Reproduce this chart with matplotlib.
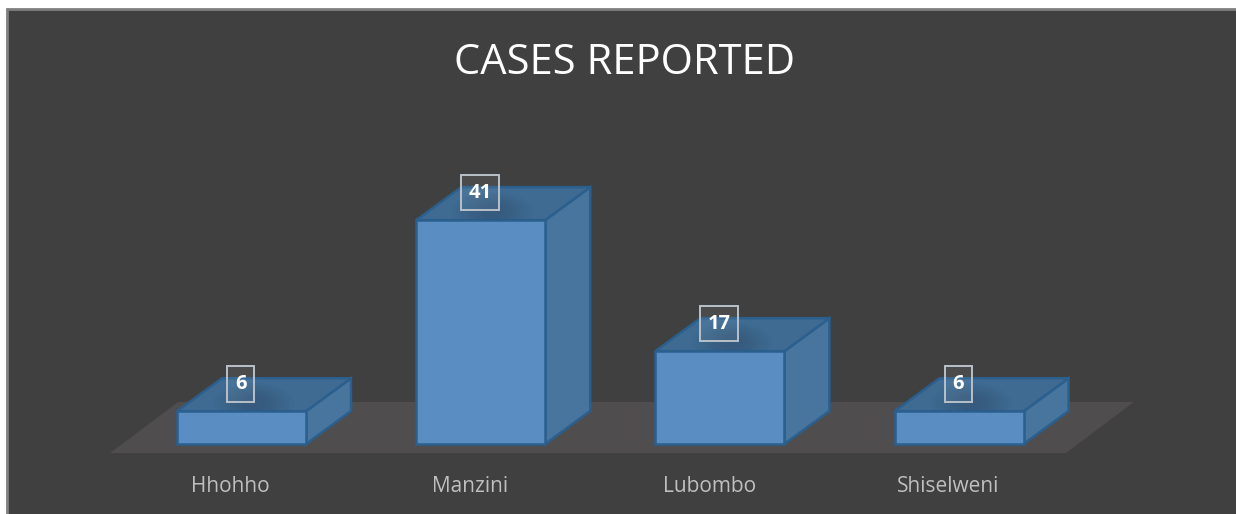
import matplotlib
matplotlib.use("Agg")
import matplotlib.pyplot as plt
from matplotlib.patches import Polygon, Rectangle, Ellipse

categories = ["Hhohho", "Manzini", "Lubombo", "Shiselweni"]
cases = [6, 41, 17, 6]

# pixel scale of the chart
x0_px, x_step = 241.5, 239.2
y0_px, y_step = 444, 5.46
W, H = 1236, 514

bar_w = 129 / x_step
dx = 45 / x_step
dy = 33 / y_step

plt.rcParams['font.family'] = ['Open Sans', 'DejaVu Sans']

fig = plt.figure(figsize=(W / 100, H / 100), dpi=100, facecolor='white')
ax = fig.add_axes([0, 0, 1, 1])
ax.set_xlim(-x0_px / x_step, (W - x0_px) / x_step)
ax.set_ylim((y0_px - H) / y_step, y0_px / y_step)
ax.axis('off')

# chart frame, in figure fraction
fig.patches.append(Rectangle((7 / W, -6 / H), (W + 6) / W, (H - 9 + 6) / H, transform=fig.transFigure,
                             facecolor='#404040', edgecolor='#7f7f7f', linewidth=2, zorder=-5))

# floor
v_low, v_high = -1.65, 7.7
ax.add_patch(Polygon([(-0.549, v_low), (3.447, v_low), (3.731, v_high), (-0.265, v_high)],
                     closed=True, facecolor='#4f4d4d', edgecolor='none', zorder=1))

for i, v in enumerate(cases):
    left = i - bar_w / 2
    right = i + bar_w / 2
    # side
    ax.add_patch(Polygon([(right, 0), (right + dx, dy), (right + dx, v + dy), (right, v)],
                         closed=True, facecolor='#48759e', edgecolor='#2b5f8e', linewidth=1.8, zorder=2))
    # top
    ax.add_patch(Polygon([(left, v), (right, v), (right + dx, v + dy), (left + dx, v + dy)],
                         closed=True, facecolor='#3f6b93', edgecolor='#2b5f8e', linewidth=1.8, zorder=2))
    # front
    ax.add_patch(Rectangle((left, 0), bar_w, v, facecolor='#5a8ec3', edgecolor='#2b5f8e',
                           linewidth=1.8, zorder=3))
    # soft shadow under the label
    for k in range(8):
        ax.add_patch(Ellipse((i + 0.05, v + dy * 0.25), (0.34 - k * 0.035), (dy * 1.2 - k * 0.6),
                             facecolor='#2c4a66', edgecolor='none', alpha=0.06, zorder=2.5))
    # value label
    ax.text(i - 0.003, v + dy * 0.83, str(v), color='white', fontsize=14.5, fontweight='bold',
            ha='center', va='center', zorder=6,
            bbox=dict(boxstyle='square,pad=0.38', facecolor=(1, 1, 1, 0.06), edgecolor='#b9c1c9', linewidth=1.4))
    # category label
    ax.text(i - 0.045, -7.85, categories[i], color='#bfbfbf', fontsize=15, ha='center', va='center', zorder=5)

ax.text(1.6, 69.75, "CASES REPORTED", color='white', fontsize=30, ha='center', va='center', zorder=5)

fig.savefig("out.png", dpi=100, facecolor='white')
